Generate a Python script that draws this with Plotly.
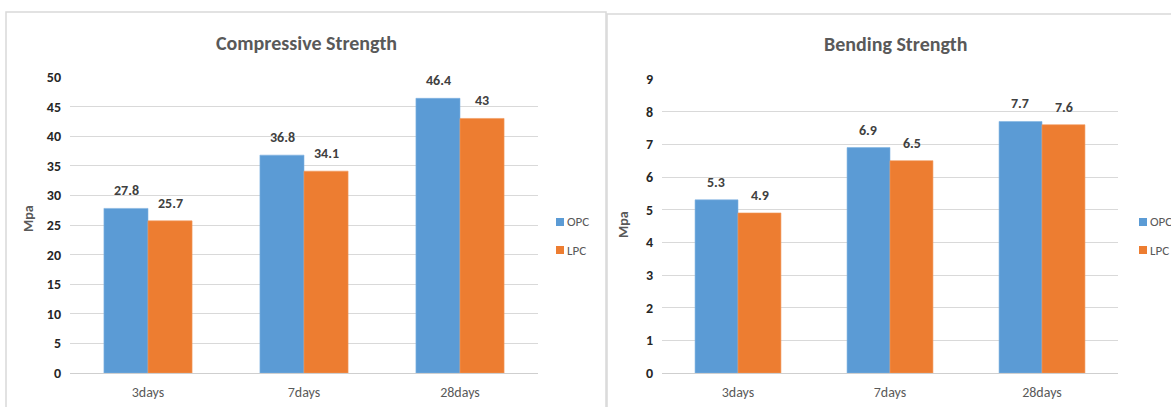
import plotly.graph_objects as go

# Curing ages shared by both panels
ages = ["3days", "7days", "28days"]

# Compressive strength (MPa)
comp_opc = [27.8, 36.8, 46.4]
comp_lpc = [25.7, 34.1, 43]

# Bending strength (MPa)
bend_opc = [5.3, 6.9, 7.7]
bend_lpc = [4.9, 6.5, 7.6]

series_names = ["OPC", "LPC"]

BLUE = "#5b9bd5"
ORANGE = "#ed7d31"
GRID = "#d9d9d9"
TITLE_GREY = "#595959"
FONT = "Carlito, Lato, 'Liberation Sans', sans-serif"

W, H = 1171, 407


def px_x(v):
    return v / W


def px_y(v):
    return 1 - v / H


fig = go.Figure()

panels = [
    dict(xa="x", ya="y", opc=comp_opc, lpc=comp_lpc, key_x=556),
    dict(xa="x2", ya="y2", opc=bend_opc, lpc=bend_lpc, key_x=1139),
]
colors = [BLUE, ORANGE]
edge_colors = ["#7fb2e0", "#f29a5e"]

for p in panels:
    for name, vals, col, edge in zip(series_names, (p["opc"], p["lpc"]),
                                     colors, edge_colors):
        fig.add_trace(go.Bar(x=ages, y=vals, name=name, marker_color=col,
                             marker_line=dict(color=edge, width=0.6),
                             xaxis=p["xa"], yaxis=p["ya"], showlegend=False))

annotations = []
shapes = []

# Value labels above each bar
for p in panels:
    for series, shift in ((p["opc"], -22), (p["lpc"], 22)):
        for cat, val in zip(ages, series):
            annotations.append(dict(
                x=cat, y=val, xref=p["xa"], yref=p["ya"],
                text=f"{val:g}", showarrow=False, xshift=shift, yshift=7,
                xanchor="center", yanchor="bottom",
                font=dict(family=FONT, size=14, color="#404040", weight="bold"),
            ))

# Legend keys beside each panel
for p in panels:
    for i, (name, col) in enumerate(zip(series_names, colors)):
        cy = 222 + 28 * i
        kx = p["key_x"]
        shapes.append(dict(type="rect", xref="paper", yref="paper",
                           x0=px_x(kx), x1=px_x(kx + 8),
                           y0=px_y(cy + 4), y1=px_y(cy - 4),
                           fillcolor=col, line=dict(width=0)))
        annotations.append(dict(text=name, x=px_x(kx + 9), y=px_y(cy),
                                xref="paper", yref="paper", showarrow=False,
                                xanchor="left", yanchor="middle",
                                font=dict(family=FONT, size=13, color=TITLE_GREY)))

# Panel titles and axis titles
annotations += [
    dict(text="Compressive Strength", x=px_x(306), y=px_y(43), xref="paper",
         yref="paper", showarrow=False, xanchor="center", yanchor="middle",
         font=dict(family=FONT, size=20, color=TITLE_GREY, weight="bold")),
    dict(text="Bending Strength", x=px_x(895), y=px_y(44), xref="paper",
         yref="paper", showarrow=False, xanchor="center", yanchor="middle",
         font=dict(family=FONT, size=20, color=TITLE_GREY, weight="bold")),
    dict(text="<b>Mpa</b>", x=px_x(28), y=px_y(218), xref="paper", yref="paper",
         showarrow=False, textangle=-90, xanchor="center", yanchor="middle",
         font=dict(family=FONT, size=14, color=TITLE_GREY, weight="bold")),
    dict(text="<b>Mpa</b>", x=px_x(623), y=px_y(225), xref="paper", yref="paper",
         showarrow=False, textangle=-90, xanchor="center", yanchor="middle",
         font=dict(family=FONT, size=14, color=TITLE_GREY, weight="bold")),
]

# Chart frames
shapes += [
    dict(type="rect", xref="paper", yref="paper", x0=px_x(6), x1=px_x(606),
         y0=-0.05, y1=px_y(12), line=dict(color=GRID, width=1.5)),
    dict(type="rect", xref="paper", yref="paper", x0=px_x(607), x1=1.05,
         y0=-0.05, y1=px_y(14), line=dict(color=GRID, width=1.5)),
]

xcommon = dict(showgrid=False, showline=False, zeroline=False, automargin=False,
               tickfont=dict(family=FONT, size=14, color=TITLE_GREY),
               ticklabelstandoff=9, fixedrange=True)
ycommon = dict(showgrid=True, gridcolor=GRID, gridwidth=1, zeroline=True,
               zerolinecolor="#cfcfcf", zerolinewidth=1, showline=False,
               automargin=False,
               tickfont=dict(family=FONT, size=14, color="#262626", weight="bold"),
               ticklabelstandoff=8, fixedrange=True)

y_bottom = px_y(373)

fig.update_layout(
    width=W, height=H,
    margin=dict(l=0, r=0, t=0, b=0, autoexpand=False),
    paper_bgcolor="white", plot_bgcolor="white",
    barmode="group", bargap=0.435, bargroupgap=0,
    font=dict(family=FONT),
    showlegend=False,
    xaxis=dict(domain=[px_x(70), px_x(538)], anchor="y", **xcommon),
    yaxis=dict(domain=[y_bottom, px_y(77)], anchor="x", range=[0, 50],
               dtick=5, **ycommon),
    xaxis2=dict(domain=[px_x(662), px_x(1118)], anchor="y2", **xcommon),
    yaxis2=dict(domain=[y_bottom, px_y(79)], anchor="x2", range=[0, 9],
                dtick=1, **ycommon),
    annotations=annotations,
    shapes=shapes,
)

fig.write_html("out.html")
